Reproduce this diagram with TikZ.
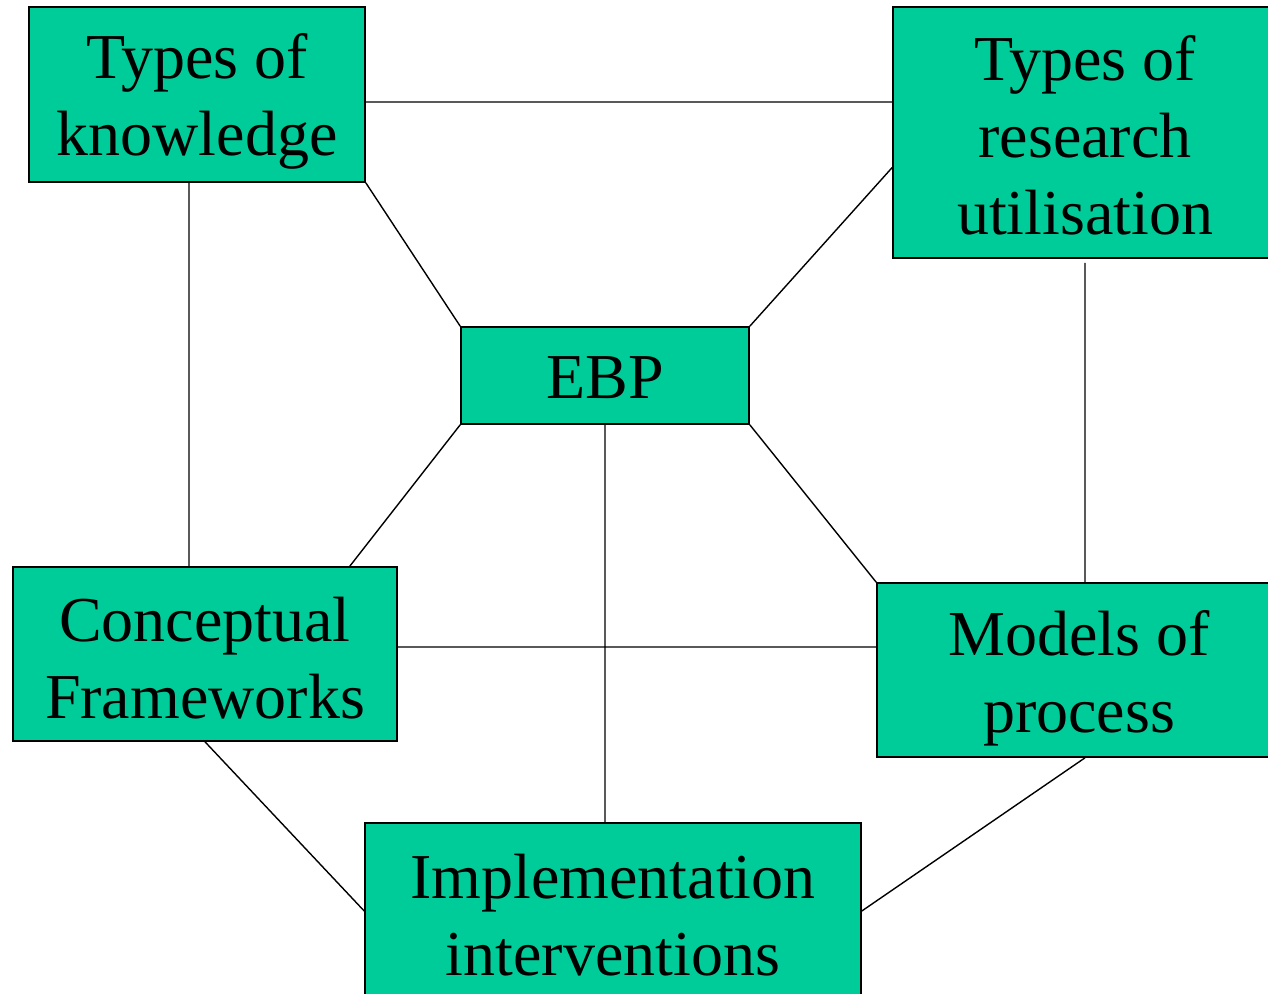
\documentclass[tikz,border=0pt]{standalone}
\usepackage{fontspec}
\setmainfont{Liberation Serif}
\usetikzlibrary{calc}
\definecolor{ebpgreen}{HTML}{00CC99}
\newcommand{\toplift}[1]{\rule{0pt}{#1}}
\tikzset{
  topic/.style={draw=black,line width=0.8pt,fill=ebpgreen,rectangle,align=center,
    inner sep=0pt,font=\fontsize{32}{38.5}\selectfont},
  link/.style={line width=0.7pt}
}
\begin{document}
\begin{tikzpicture}[x=0.5pt,y=-0.5pt]
\useasboundingbox (0,0) rectangle (1268,994);
\clip (0,0) rectangle (1268,994);
\node[topic,minimum width=168pt,minimum height=87.5pt] (know) at (197,94.5) {\toplift{29pt}Types of\\knowledge};
\node[topic,minimum width=192pt,minimum height=125.5pt] (util) at (1085,132.5) {\toplift{25pt}Types of\\research\\utilisation};
\node[topic,minimum width=144pt,minimum height=48.5pt] (ebp) at (605,375.5) {\toplift{23.5pt}EBP};
\node[topic,minimum width=192pt,minimum height=87pt] (frame) at (205,654) {\toplift{26pt}Conceptual\\Frameworks};
\node[topic,minimum width=202pt,minimum height=87pt] (model) at (1079,670) {\toplift{31pt}Models of\\process};
\node[topic,minimum width=248pt,minimum height=88pt] (impl) at (613,911) {\toplift{26pt}Implementation\\interventions};
\draw[link]
  ([yshift=-3.75pt]know.east) -- ([yshift=-3.75pt]know.east -| util.west)
  (know.south east) -- (ebp.north west)
  ([yshift=-17.5pt]util.west) -- (ebp.north east)
  ([xshift=-4pt]know.south) -- ([xshift=-4pt]know.south |- frame.north)
  ([yshift=-2pt]util.south) -- (util.south |- model.north)
  (ebp.south west) -- ([xshift=-24pt]frame.north east)
  (ebp.south east) -- (model.north west)
  (ebp.south) -- (ebp.south |- impl.north)
  ([yshift=3.5pt]frame.east) -- ([yshift=3.5pt]frame.east -| model.west)
  (frame.south) -- (impl.west)
  ([xshift=3pt]model.south) -- (impl.east)
;
\end{tikzpicture}
\end{document}
